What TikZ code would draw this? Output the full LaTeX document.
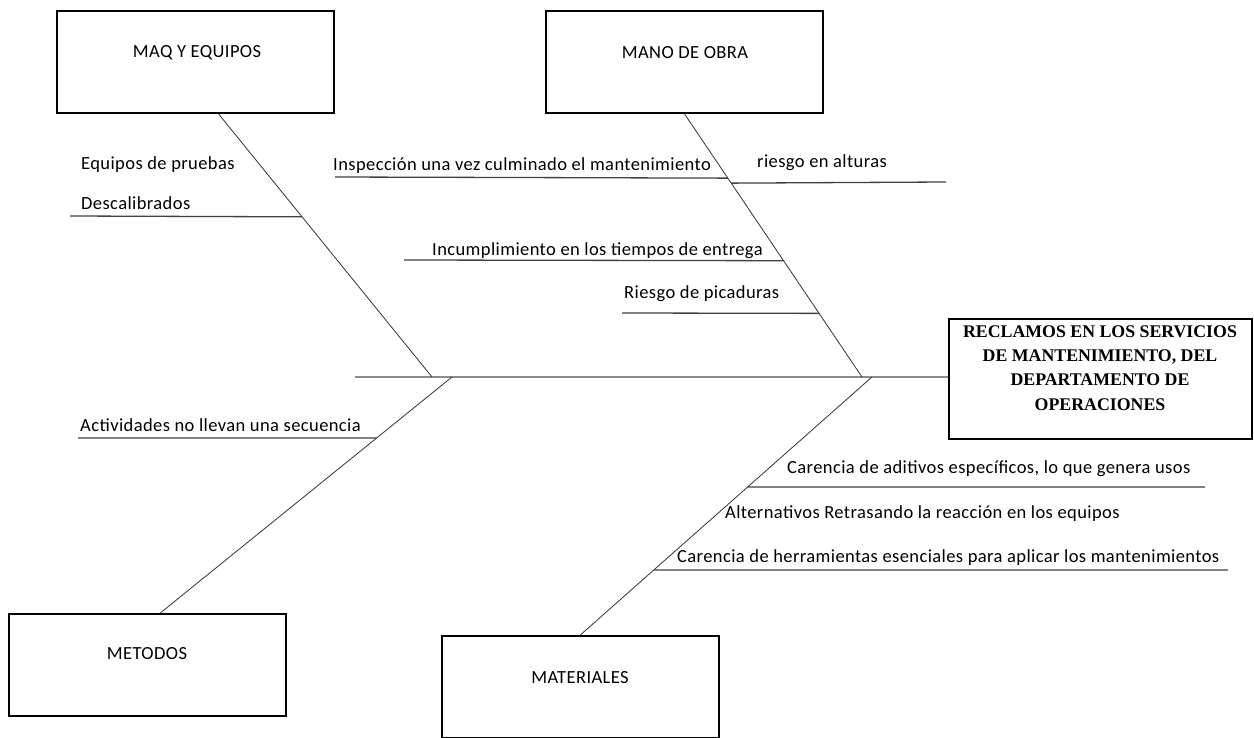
\documentclass[tikz,border=0pt]{standalone}
\usepackage{fontspec}
\setmainfont{Carlito}
\newfontfamily\lblfont[LetterSpace=2.2]{Carlito}
\newfontfamily\headfont{Liberation Serif}
\usetikzlibrary{calc}
\begin{document}
\begin{tikzpicture}[x=1pt,y=-1pt,
  catbox/.style={draw=black, line width=1.6pt, minimum width=277pt, minimum height=102pt, anchor=north west, inner sep=0pt},
  effbox/.style={draw=black, line width=1.8pt, minimum width=303pt, minimum height=120pt, anchor=north west, inner sep=0pt},
  cattext/.style={font=\lblfont\fontsize{18.5}{20}\selectfont, inner sep=0pt},
  bone/.style={draw=black!80, line width=0.8pt},
  spine/.style={draw=black!45, line width=2.4pt},
  sub/.style={draw=black!75, line width=1.3pt},
  lbl/.style={font=\lblfont\fontsize{18.5}{20}\selectfont, inner sep=0pt, anchor=base west},
  efftext/.style={font=\headfont\bfseries\fontsize{17.8}{24.2}\selectfont, align=center, inner sep=0pt}
]
\useasboundingbox (0,0) rectangle (1254,738);

% category boxes
\node[catbox] (maq) at (56,10) {};
\node[cattext] (maqt) at (197,53) {MAQ Y EQUIPOS};
\node[catbox] (mano) at (545,10) {};
\node[cattext] (manot) at (685,53) {MANO DE OBRA};
\node[catbox] (met) at (8,613) {};
\node[cattext] (mett) at (147,654) {METODOS};
\node[catbox] (mat) at (441,635) {};
\node[cattext] (matt) at (580,678) {MATERIALES};

% effect box
\node[effbox] (eff) at (948,318) {};
\node[efftext] (efft) at (1100,368) {RECLAMOS EN LOS SERVICIOS\\DE MANTENIMIENTO, DEL\\DEPARTAMENTO DE\\OPERACIONES};

% spine
\coordinate (spl) at (355,377);
\draw[spine] (spl) -- (eff.west |- spl);

% bones
\coordinate (maqtop) at ([xshift=23pt]maq.south);
\coordinate (j1) at (432,377);
\coordinate (j2) at (452,377);
\coordinate (mettop) at ([xshift=13pt]met.north);
\coordinate (j3) at (862,377);
\coordinate (j4) at (872,377);
\draw[bone] (maqtop) -- (j1);
\draw[bone] (j2) -- (mettop);
\draw[bone] (mano.south) -- (j3);
\draw[bone] (j4) -- (mat.north);

% MAQ Y EQUIPOS causes
\node[lbl] (c1) at (81,170) {Equipos de pruebas};
\node[lbl] (c2) at (81,210) {Descalibrados};
\coordinate (c2a) at (70,216);
\draw[sub] (c2a) -- ($(maqtop)!0.392!(j1)$);

% MANO DE OBRA causes
\node[lbl] (c3) at (333,171) {Inspección una vez culminado el mantenimiento};
\coordinate (c3a) at (335,177);
\draw[sub] (c3a) -- ($(mano.south)!0.245!(j3)$);
\node[lbl] (c4) at (757,168) {riesgo en alturas};
\coordinate (c4b) at (946,182);
\draw[sub] ($(mano.south)!0.264!(j3)$) -- (c4b);
\node[lbl] (c5) at (432,256) {Incumplimiento en los tiempos de entrega};
\coordinate (c5a) at (404,260);
\draw[sub] (c5a) -- ($(mano.south)!0.5585!(j3)$);
\node[lbl] (c6) at (624,299) {Riesgo de picaduras};
\coordinate (c6a) at (622,313);
\draw[sub] (c6a) -- ($(mano.south)!0.7585!(j3)$);

% METODOS causes
\node[lbl] (c7) at (80,431) {Actividades no llevan una secuencia};
\coordinate (c7a) at (78,438);
\draw[sub] (c7a) -- ($(j2)!0.2585!(mettop)$);

% MATERIALES causes
\node[lbl] (c8) at (787,473) {Carencia de aditivos específicos, lo que genera usos};
\coordinate (c8b) at (1205,487);
\draw[sub] ($(j4)!0.426!(mat.north)$) -- (c8b);
\node[lbl] (c9) at (725,518) {Alternativos Retrasando la reacción en los equipos};
\node[lbl] (c10) at (677,562) {Carencia de herramientas esenciales para aplicar los mantenimientos};
\coordinate (c10b) at (1228,570);
\draw[sub] ($(j4)!0.748!(mat.north)$) -- (c10b);
\end{tikzpicture}
\end{document}
